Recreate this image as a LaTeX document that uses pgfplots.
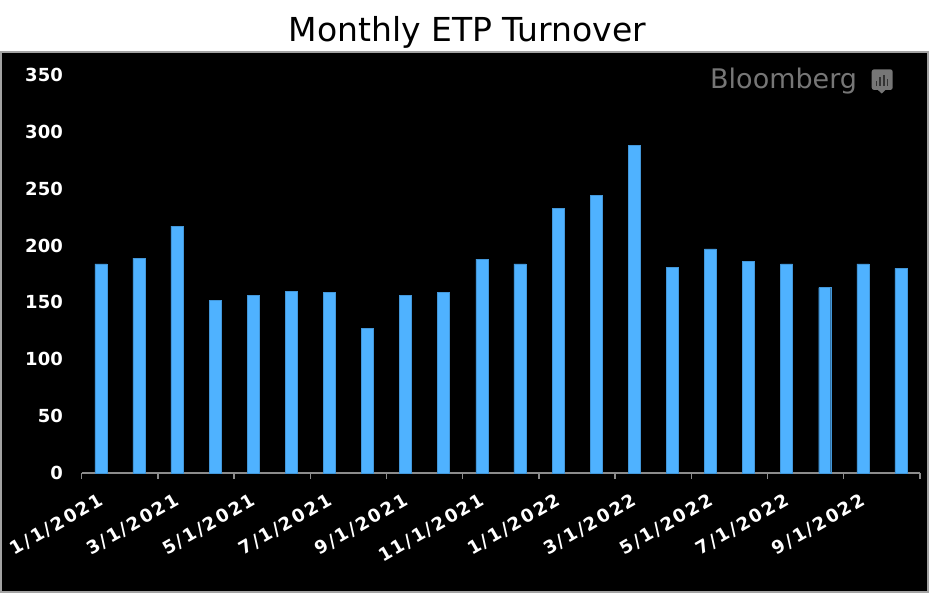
\documentclass[border=0pt]{standalone}
\usepackage{fontspec}
\setmainfont{DejaVu Sans}
\newfontfamily\xtickfont{DejaVu Sans}[LetterSpace=12]
\usepackage{pgfplots}
\pgfplotsset{compat=1.18}
\definecolor{barblue}{RGB}{79,178,255}
\definecolor{axgray}{RGB}{140,140,140}
\definecolor{logogray}{RGB}{118,118,118}
\begin{document}
\begin{tikzpicture}
% page and plot panel
\fill[white] (-81.7pt,-122pt) rectangle (849.3pt,473pt);
\filldraw[fill=black, draw=axgray!80, line width=1.2pt] (-80.7pt,-119pt) rectangle (846.3pt,421pt);
\begin{axis}[
  at={(0pt,0pt)}, anchor=origin,
  scale only axis,
  width=838.3pt, height=398pt,
  xmin=0.5, xmax=22.5, ymin=0, ymax=350,
  clip=false,
  axis x line*=bottom, axis y line*=left,
  y axis line style={draw=none},
  x axis line style={draw=axgray, line width=1.4pt},
  ytick={0,50,...,350},
  major tick length=0pt,
  /pgf/number format/assume math mode=true,
  yticklabel style={anchor=east, inner sep=0pt, xshift=-18.7pt, text=white, font=\fontsize{18}{18}\selectfont\bfseries},
  xtick={1,3,...,21},
  xticklabels={1/1/2021,3/1/2021,5/1/2021,7/1/2021,9/1/2021,11/1/2021,1/1/2022,3/1/2022,5/1/2022,7/1/2022,9/1/2022},
  xticklabel style={xshift=-3pt, yshift=-19pt, rotate=30, anchor=north east, inner sep=0pt, text=white, font=\xtickfont\fontsize{18}{18}\selectfont\bfseries},
  extra x ticks={0.5,2.5,...,22.5},
  extra x tick labels={},
  extra x tick style={tick align=outside, major tick length=6pt, tick style={draw=axgray, line width=1.4pt}},
]
\addplot[ybar, bar width=12pt, fill=barblue, draw=barblue!85!black, line width=0.4pt] coordinates {
(1,184) (2,189) (3,217) (4,152) (5,156) (6,160) (7,159) (8,127) (9,156) (10,159) (11,188)
(12,184) (13,233) (14,244) (15,288) (16,181) (17,197) (18,186) (19,184) (20,163) (21,184) (22,180)
};
\end{axis}
% title
\node[anchor=base, inner sep=0pt, text=black, font=\fontsize{33}{33}\selectfont] at (385.8pt,431.3pt) {Monthly ETP Turnover};
% Bloomberg logo
\node[anchor=base west, inner sep=0pt, text=logogray, font=\fontsize{27}{27}\selectfont] at (628.3pt,384.7pt) {Bloomberg};
\fill[logogray, rounded corners=2.5pt] (790pt,383pt) rectangle (811pt,403.7pt);
\fill[logogray] (796pt,383.2pt) -- (804pt,383.2pt) -- (800pt,379.5pt) -- cycle;
\fill[black!80] (793.8pt,387pt) rectangle (795.6pt,392.3pt);
\fill[black!80] (797.3pt,387pt) rectangle (799.1pt,395.7pt);
\fill[black!80] (801.1pt,387pt) rectangle (802.9pt,398pt);
\fill[black!80] (804.8pt,387pt) rectangle (806.6pt,394pt);
\end{tikzpicture}
\end{document}
